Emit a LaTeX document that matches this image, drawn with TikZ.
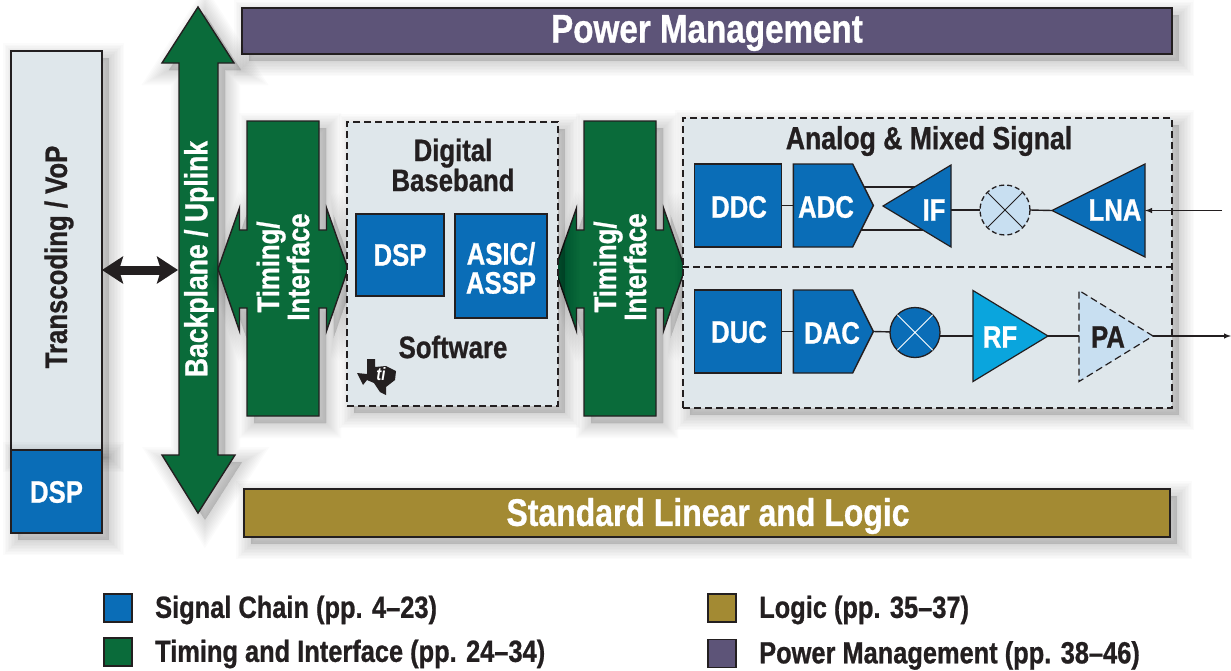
\documentclass[tikz,border=0pt]{standalone}
\usepackage{fontspec}
\setmainfont{Liberation Sans}[FakeStretch=0.83,BoldFeatures={FakeBold=0.8}]
\usepackage{tikz}
\usetikzlibrary{calc,shapes.geometric,shapes.symbols,arrows.meta,shadows}
\definecolor{tiblue}{HTML}{0A6DB7}
\definecolor{tigreen}{HTML}{0A6B3A}
\definecolor{tiolive}{HTML}{A38A33}
\definecolor{tipurple}{HTML}{5D5478}
\definecolor{tipale}{HTML}{DFE7EB}
\definecolor{tisky}{HTML}{0AA5DD}
\definecolor{tilight}{HTML}{C8DFF1}
\definecolor{tiline}{HTML}{231F20}
\tikzset{
  softlayer/.style={general shadow={shadow xshift=7pt,shadow yshift=-7pt,solid,draw=black,line width=#1,draw opacity=.016,fill=black,fill opacity=.016}},
  softshadow/.style={softlayer=30pt,softlayer=27pt,softlayer=24pt,softlayer=21pt,softlayer=18pt,softlayer=15pt,softlayer=12pt,softlayer=9pt,softlayer=6pt,softlayer=3pt,softlayer=1pt},
  rectbox/.style={rectangle,draw=tiline,line width=1.4pt,inner sep=0pt,outer sep=0pt},
  bluebox/.style={rectbox,fill=tiblue,minimum width=#1},
  panel/.style={rectangle,draw=tiline,line width=1.3pt,dash pattern=on 7pt off 4pt,fill=tipale,inner sep=0pt,softshadow},
  bar/.style={rectbox,softshadow},
  wlabel/.style={white,font=\fontsize{31}{29}\selectfont\bfseries,align=center,inner sep=0pt},
  dlabel/.style={tiline,font=\fontsize{31}{29}\selectfont\bfseries,align=center,inner sep=0pt},
  barlabel/.style={white,font=\fontsize{#1}{38}\selectfont\bfseries,inner sep=0pt},
  keylabel/.style={tiline,font=\fontsize{30.6}{30}\selectfont\bfseries,anchor=west,inner sep=0pt},
  keybox/.style={rectbox,minimum width=28pt,minimum height=28pt},
  amp/.style={isosceles triangle,isosceles triangle stretches,inner sep=0pt,outer sep=0pt,anchor=apex,draw=tiline,line width=1.2pt},
  conv/.style={signal,signal to=east,signal pointer angle=127,inner sep=0pt,outer sep=0pt,draw=tiline,line width=1.4pt,fill=tiblue,minimum width=80pt,minimum height=83pt},
  mixer/.style={circle,draw=tiline,line width=1.3pt,inner sep=0pt,outer sep=0pt,minimum size=50pt},
  wire/.style={draw=tiline,line width=1.4pt},
  big/.style={rectbox,fill=tigreen,draw=tiline,line width=1.4pt}
}
\begin{document}
\begin{tikzpicture}[x=1pt,y=-1pt]
    \useasboundingbox (0,0) rectangle (1231,670);
    % top and bottom bars
    \node[bar,fill=tipurple,minimum width=930pt,minimum height=46pt] (power) at (707,31) {};
    \node[barlabel=40] (powerlabel) at (707,33) {Power Management};
    \node[bar,fill=tiolive,minimum width=926pt,minimum height=48pt] (linear) at (707,513) {};
    \node[barlabel=38.5] (linearlabel) at (708,516) {Standard Linear and Logic};
    % left column
    \node[bar,fill=tipale,minimum width=91pt,minimum height=399pt] (transcoding) at (56.5,250.5) {};
    \node[dlabel,rotate=90] (transcodinglabel) at (59,257) {Transcoding / VoP};
    \node[bar,fill=tiblue,minimum width=91pt,minimum height=83pt] (hostdsp) at (56.5,491.5) {};
    \node[wlabel] (hostdsplabel) at (56.5,492) {DSP};
    % backplane
    \path[big,softshadow] (198,7) -- (234,63) -- (218,63) -- (218,455) -- (235,455) -- (198,513)
        -- (162,455) -- (179,455) -- (179,63) -- (162,63) -- cycle;
    \node[wlabel,rotate=90,font=\fontsize{32}{29}\selectfont\bfseries] (backplane) at (199,259) {Backplane / Uplink};
    \coordinate (backplaneleft) at (178,270);
    \draw[line width=9pt,tiline,{Stealth[length=21pt,width=27pt,inset=4pt]}-{Stealth[length=21pt,width=27pt,inset=4pt]}]
        (transcoding.east |- backplaneleft) -- (backplaneleft);
    % timing blocks
    \foreach \cx/\tname in {283/timinga,620/timingb}{
        \path[big,softshadow,shift={(\cx,0)}] (-36,121) -- (36,121) -- (36,230) -- (43.5,230) -- (43.5,208)
            -- (65,269) -- (43.5,331) -- (43.5,308) -- (36,308) -- (36,416) -- (-36,416) -- (-36,308)
            -- (-43.5,308) -- (-43.5,331) -- (-65,269) -- (-43.5,208) -- (-43.5,230) -- (-36,230) -- cycle;
        \node[wlabel,rotate=90] (\tname) at (\cx,267) {Timing/\\Interface};
    }
    % digital baseband
    \node[panel,minimum width=211pt,minimum height=284pt] (digital) at (452.5,264) {};
    \node[dlabel] (digitallabel) at (453,165) {Digital\\Baseband};
    \node[bluebox=88pt,minimum height=82pt] (dsp) at (400,255) {};
    \node[wlabel] (dsplabel) at (400,255) {DSP};
    \node[bluebox=92pt,minimum height=104pt] (asic) at (501,266) {};
    \node[wlabel] (asiclabel) at (501,268) {ASIC/\\ASSP};
    \node[dlabel] (software) at (453,347) {Software};
    \fill[tiline] (367,359) -- (375,359) -- (375,367) -- (386,366) -- (396,371) -- (395,380) -- (386,387)
        -- (386,395) -- (380,392) -- (374,383) -- (367,380) -- (363,385) -- (357,373) -- (367,374) -- cycle;
    \node[white,font=\fontsize{18}{18}\selectfont\bfseries\itshape,inner sep=0pt] (tilogo) at (381,374) {ti};
    % analog and mixed signal
    \node[panel,minimum width=489pt,minimum height=290pt] (analog) at (927.5,263) {};
    \draw[tiline,line width=1.3pt,dash pattern=on 7pt off 4pt] ($(analog.west)+(0,4)$) -- ($(analog.east)+(0,4)$);
    \node[dlabel,font=\fontsize{32}{29}\selectfont\bfseries] (analoglabel) at (929,141) {Analog \& Mixed Signal};
    % receive chain
    \node[bluebox=87pt,minimum height=83pt] (ddc) at (738,205.5) {};
    \node[wlabel] (ddclabel) at (739,207) {DDC};
    \node[conv] (adc) at (823,205.5) {};
    \node[wlabel] (adclabel) at (826,207) {ADC};
    \node[amp,fill=tiblue,shape border rotate=180,minimum width=82pt,minimum height=68pt] (ifamp) at (883,206) {};
    \node[wlabel] (iflabel) at (934,210) {IF};
    \node[mixer,fill=tilight,dash pattern=on 5pt off 3pt] (mixa) at (1005,210) {};
    \node[amp,fill=tiblue,shape border rotate=180,minimum width=93pt,minimum height=93pt] (lna) at (1052,210.5) {};
    \node[wlabel] (lnalabel) at (1115,210) {LNA};
    \coordinate (rxin) at (1222,210.5);
    \coordinate (adcup) at (864,187);
    \coordinate (ifup) at (915,187);
    \coordinate (adcdown) at (861,230);
    \coordinate (ifdown) at (923,230);
    \draw[wire] (ddc) -- (adc);
    \draw[wire] (adcup) -- (ifup);
    \draw[wire] (adcdown) -- (ifdown);
    \draw[wire] (mixa.west) -- (mixa.west -| ifamp.left corner);
    \draw[wire] (mixa.east) -- (lna.apex);
    \draw[wire,-latex] (rxin) -- (lna.left corner |- rxin);
    \draw[tiline,line width=1pt] (mixa.45) -- (mixa.225) (mixa.135) -- (mixa.315);
    % transmit chain
    \node[bluebox=87pt,minimum height=83pt] (duc) at (738,331.5) {};
    \node[wlabel] (duclabel) at (739,332) {DUC};
    \node[conv] (dac) at (823,331.5) {};
    \node[wlabel] (daclabel) at (832,333) {DAC};
    \node[mixer,fill=tiblue] (mixb) at (915,332.5) {};
    \node[amp,fill=tisky,minimum width=91pt,minimum height=75pt] (rf) at (1048,336) {};
    \node[wlabel] (rflabel) at (1000,337) {RF};
    \node[amp,fill=tilight,dash pattern=on 7pt off 4pt,minimum width=91pt,minimum height=74pt] (pa) at (1153,336) {};
    \node[dlabel] (palabel) at (1108,337) {PA};
    \coordinate (txout) at (1231,336);
    \draw[wire] (duc) -- (dac);
    \draw[wire] (dac.east) -- (mixb);
    \draw[wire] (mixb.east |- rf.west) -- (rf.west);
    \draw[wire] (rf.apex) -- (pa.west);
    \draw[wire,-latex] (pa.apex) -- (txout);
    \draw[white,line width=1pt] (mixb.45) -- (mixb.225) (mixb.135) -- (mixb.315);
    % legend
    \foreach \kx/\ky/\kcol/\ktext/\kname in {
        118/608/tiblue/{Signal Chain (pp. 4--23)}/keyblue,
        118/652/tigreen/{Timing and Interface (pp. 24--34)}/keygreen,
        722/608/tiolive/{Logic (pp. 35--37)}/keyolive,
        722/653.5/tipurple/{Power Management (pp. 38--46)}/keypurple}{
        \node[keybox,fill=\kcol] (\kname) at (\kx,\ky) {};
        \node[keylabel] (\kname text) at (\kx+37,\ky+2) {\ktext};
    }
\end{tikzpicture}
\end{document}
